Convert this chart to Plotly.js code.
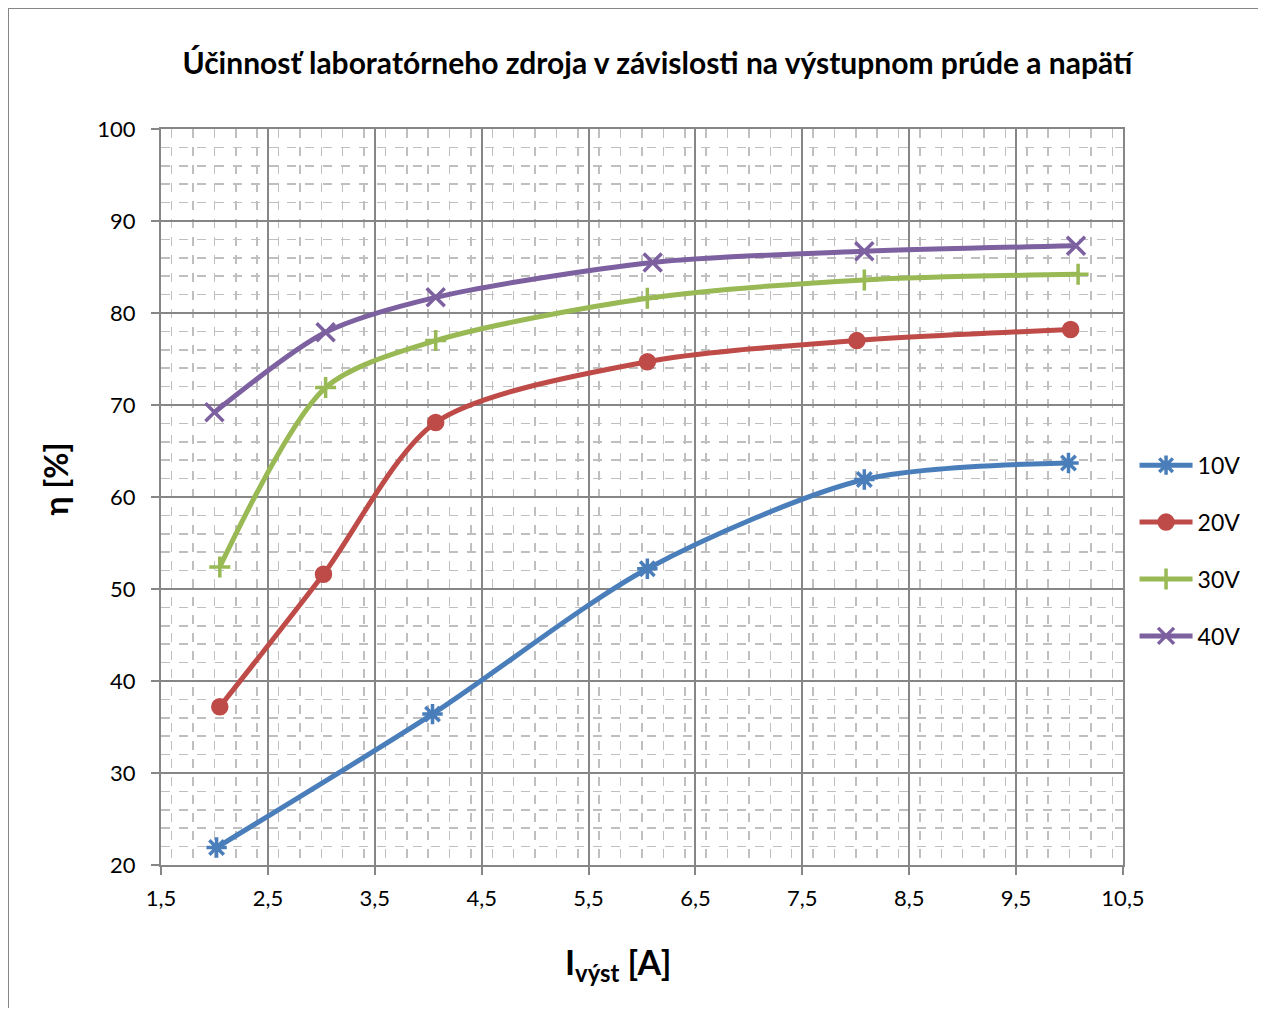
<!DOCTYPE html>
<html>
<head>
<meta charset="utf-8">
<script src="https://cdn.plot.ly/plotly-3.0.1.min.js"></script>
<style>
html,body{margin:0;padding:0;background:#fff;}
#chart{position:absolute;left:8px;top:8px;width:1250px;height:1000px;border:1px solid #868686;box-sizing:border-box;}
</style>
</head>
<body>
<div id="chart"></div>
<script>
const seriesNames = ['10V', '20V', '30V', '40V'];
const x10 = [2.02, 4.04, 6.05, 8.08, 9.99];
const y10 = [21.9, 36.4, 52.2, 61.9, 63.7];
const x20 = [2.05, 3.02, 4.07, 6.05, 8.01, 10.01];
const y20 = [37.2, 51.6, 68.1, 74.7, 77.0, 78.2];
const x30 = [2.05, 3.04, 4.07, 6.05, 8.08, 10.08];
const y30 = [52.4, 71.9, 77.0, 81.6, 83.6, 84.2];
const x40 = [2.00, 3.04, 4.07, 6.10, 8.08, 10.06];
const y40 = [69.2, 77.9, 81.7, 85.5, 86.7, 87.3];
const colors = ['#4A7EBB', '#BE4B48', '#98B954', '#7D60A0'];
const symbols = ['asterisk-open', 'circle', 'cross-thin-open', 'x-thin-open'];
const markerSizes = [17, 14, 15, 18];

const xs = [x10, x20, x30, x40];
const ys = [y10, y20, y30, y40];
const font = 'Lato, "Open Sans", "Liberation Sans", sans-serif';

const traces = seriesNames.map((n, i) => ({
  x: xs[i], y: ys[i], name: n, type: 'scatter', mode: 'lines+markers',
  legendgroup: n,
  line: {color: colors[i], width: 5, shape: 'spline', smoothing: 0.8},
  marker: {symbol: symbols[i], size: markerSizes[i], color: colors[i],
           line: {color: colors[i], width: 3.5}}
}));

const layout = {
  width: 1250, height: 1000,
  paper_bgcolor: '#fff', plot_bgcolor: '#fff',
  separators: ', ',
  margin: {l: 152, r: 136, t: 120, b: 144},
  font: {family: font, color: '#000', size: 22},
  title: {text: '<b>Účinnosť laboratórneho zdroja v závislosti na výstupnom prúde a napätí</b>',
          x: 0.516, xref: 'paper', xanchor: 'center', y: 0.946, yanchor: 'middle',
          font: {family: font, size: 30, color: '#000'}},
  xaxis: {
    range: [1.5, 10.5], tick0: 1.5, dtick: 1, tickformat: '.1f',
    showgrid: true, gridcolor: '#868686', gridwidth: 2,
    showline: true, linecolor: '#868686', linewidth: 2, mirror: true,
    ticks: 'outside', ticklen: 8, tickwidth: 2, tickcolor: '#868686',
    ticklabelstandoff: 5,
    tickfont: {size: 22, family: font},
    zeroline: false,
    minor: {dtick: 0.2, showgrid: true, gridcolor: '#BFBFBF', griddash: 'dash', gridwidth: 1.5}
  },
  yaxis: {
    range: [20, 100], tick0: 20, dtick: 10,
    showgrid: true, gridcolor: '#868686', gridwidth: 2,
    showline: true, linecolor: '#868686', linewidth: 2, mirror: true,
    ticks: 'outside', ticklen: 8, tickwidth: 2, tickcolor: '#868686',
    ticklabelstandoff: 11,
    tickfont: {size: 22, family: font},
    zeroline: false,
    minor: {dtick: 2, showgrid: true, gridcolor: '#BFBFBF', griddash: 'dash', gridwidth: 1.5}
  },
  annotations: [
    {text: '<b>I<sub>výst</sub> [A]</b>', xref: 'paper', yref: 'paper', x: 0.475, y: -0.1345,
     xanchor: 'center', yanchor: 'middle', showarrow: false, font: {size: 34, family: font}},
    {text: '<b>η [%]</b>', xref: 'paper', yref: 'paper', x: -0.11, y: 0.524, textangle: -90,
     xanchor: 'center', yanchor: 'middle', showarrow: false, font: {size: 32, family: font}}
  ],
  legend: {x: 1.012, xanchor: 'left', y: 0.427, yanchor: 'middle',
           font: {size: 23, family: font}, traceorder: 'grouped', tracegroupgap: 24,
           bgcolor: 'rgba(0,0,0,0)', itemwidth: 53},
  showlegend: true
};

Plotly.newPlot('chart', traces, layout, {displayModeBar: false, staticPlot: true});
</script>
</body>
</html>
